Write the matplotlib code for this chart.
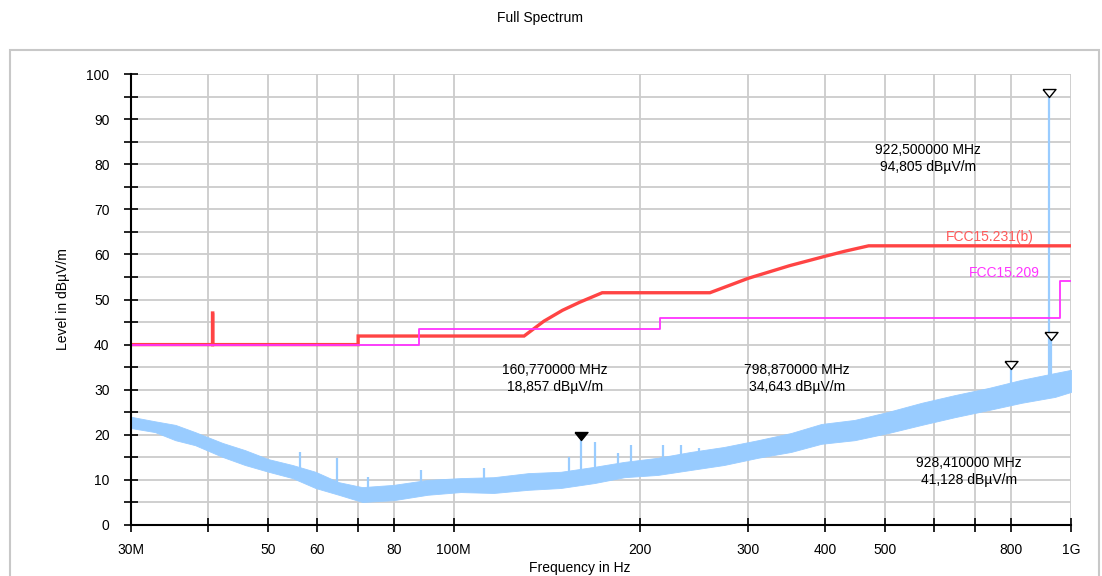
import numpy as np
import matplotlib
matplotlib.use("Agg")
import matplotlib.pyplot as plt
from matplotlib.patches import Rectangle
from matplotlib.ticker import NullLocator, MultipleLocator

plt.rcParams['font.family'] = ['Liberation Sans', 'DejaVu Sans']
plt.rcParams['font.size'] = 10

# noise floor envelope (MHz, dBuV/m)
noise_f = [30, 32.8, 35.4, 38.1, 42.2, 45.9, 50.1, 54.8, 59.7, 65.1, 71.1, 79.9,
           90.7, 102.6, 116, 132, 149, 169, 189, 214, 242, 274, 311, 352, 394,
           446, 506, 573, 648, 736, 832, 942, 1000]
noise_hi = [24, 23, 22.2, 20.6, 18.2, 16.6, 14.6, 13.3, 11.8, 9.5, 8.4, 8.9,
            10.0, 10.4, 10.6, 11.5, 11.8, 12.9, 14.0, 14.9, 16.2, 17.3, 18.8, 20.4, 22.4,
            23.3, 25.1, 27.1, 28.8, 30.4, 32.2, 33.7, 34.4]
noise_lo = [21.5, 20.6, 18.8, 17.7, 15.1, 13.3, 11.8, 10.4, 8.2, 6.7, 5.1, 5.5,
            6.7, 7.3, 7.1, 7.8, 8.2, 9.3, 10.6, 11.1, 12.2, 13.3, 14.9, 16.2, 18.0,
            18.8, 20.4, 22.2, 23.9, 25.5, 27.1, 28.4, 29.5]

# single spurs sticking out of the noise
spike_f = [56.4, 64.6, 72.5, 88.4, 111.8, 153.6, 160.77, 169.3, 184.5, 193.7,
           218, 233.6, 249.7, 798.87, 922.5, 928.41]
spike_top = [16.2, 14.9, 10.6, 12.2, 12.6, 15.1, 18.857, 18.5, 16.0, 17.7,
             17.7, 17.7, 17.1, 34.643, 94.805, 41.128]
spike_base = [12, 8, 7, 8, 9, 10, 10, 11, 12, 12, 13, 14, 14, 29, 31, 31]

# limit lines
fcc231_f = [30, 40.66, 40.66, 40.70, 40.70, 70, 70, 130, 140, 150, 160, 174,
            260, 300, 350, 400, 430, 470, 1000]
fcc231_db = [40, 40, 47, 47, 40, 40, 41.9, 41.9, 45.2, 47.6, 49.4, 51.5,
             51.5, 54.7, 57.5, 59.6, 60.7, 61.9, 61.9]
fcc209_f = [30, 88, 88, 216, 216, 960, 960, 1000]
fcc209_db = [40, 40, 43.5, 43.5, 46, 46, 54, 54]

# markers
mark_f = [160.77, 798.87, 922.5, 928.41]
mark_db = [18.857, 34.643, 94.805, 41.128]
mark_filled = [True, False, False, False]
mark_text = ["160,770000 MHz\n18,857 dBµV/m", "798,870000 MHz\n34,643 dBµV/m",
             "922,500000 MHz\n94,805 dBµV/m", "928,410000 MHz\n41,128 dBµV/m"]
mark_text_f = [146, 360, 586, 683]
mark_text_db = [32.5, 32.5, 81.3, 11.9]

xticks = [30, 40, 50, 60, 70, 80, 100, 200, 300, 400, 500, 600, 700, 800, 1000]
xlabels = ['30M', '', '50', '60', '', '80', '100M', '200', '300', '400', '500',
           '', '', '800', '1G']

W, H = 1102, 576
fig = plt.figure(figsize=(W / 100, H / 100), dpi=100)
fig.patches.append(Rectangle((10 / W, -0.1), 1089 / W, 1.1 - 50 / H + 0.0,
                             transform=fig.transFigure, fill=False,
                             edgecolor='#c8c8c8', lw=1.5))
ax = fig.add_axes([131 / W, 1 - 525 / H, 940 / W, 451 / H])

ax.fill_between(noise_f, noise_lo, noise_hi, color='#99ccff', lw=0.6,
                edgecolor='#99ccff')
ax.vlines(spike_f, spike_base, spike_top, color='#99ccff', lw=1.6)

ax.plot(fcc231_f, fcc231_db, color='#ff4444', lw=2.4, solid_joinstyle='miter')
ax.plot(fcc209_f, fcc209_db, color='#ff33ff', lw=1.3)

tri = [(-6.5, 8), (6.5, 8), (0, 0), (-6.5, 8)]
for f, v, filled in zip(mark_f, mark_db, mark_filled):
    ax.plot([f], [v], marker=tri, markersize=11.5, color='black',
            markerfacecolor='black' if filled else 'white', mew=1.0,
            linestyle='none', zorder=5)
for f, v, t in zip(mark_text_f, mark_text_db, mark_text):
    ax.text(f, v, t, ha='center', va='center', multialignment='center',
            fontsize=10, linespacing=1.25)

ax.text(870, 63.9, 'FCC15.231(b)', ha='right', va='center', color='#ff5a5a',
        fontsize=10)
ax.text(890, 55.9, 'FCC15.209', ha='right', va='center', color='#ff33ff',
        fontsize=10)

ax.set_xscale('log')
ax.set_xlim(30, 1000)
ax.set_ylim(0, 100)
ax.set_xticks(xticks)
ax.set_xticklabels(xlabels)
ax.xaxis.set_minor_locator(NullLocator())
ax.yaxis.set_major_locator(MultipleLocator(10))
ax.yaxis.set_minor_locator(MultipleLocator(5))
ax.grid(True, which='both', color='#cccccc', lw=1.3)
ax.set_axisbelow(True)
ax.tick_params(axis='both', which='both', direction='inout', length=10,
               width=1.2, color='black')
ax.tick_params(axis='y', which='major', pad=10.5)
ax.tick_params(axis='x', which='major', pad=8)
for s in ['top', 'right']:
    ax.spines[s].set_visible(False)
for s in ['left', 'bottom']:
    ax.spines[s].set_linewidth(1.5)

fig.text(540 / W, 1 - 18 / H, 'Full Spectrum', ha='center', va='center', fontsize=10)
fig.text(580 / W, 1 - 568 / H, 'Frequency in Hz', ha='center', va='center', fontsize=10)
fig.text(63 / W, 1 - 299 / H, 'Level in dBµV/m', ha='center', va='center',
         rotation=90, fontsize=10)

fig.savefig('out.png', dpi=100)
